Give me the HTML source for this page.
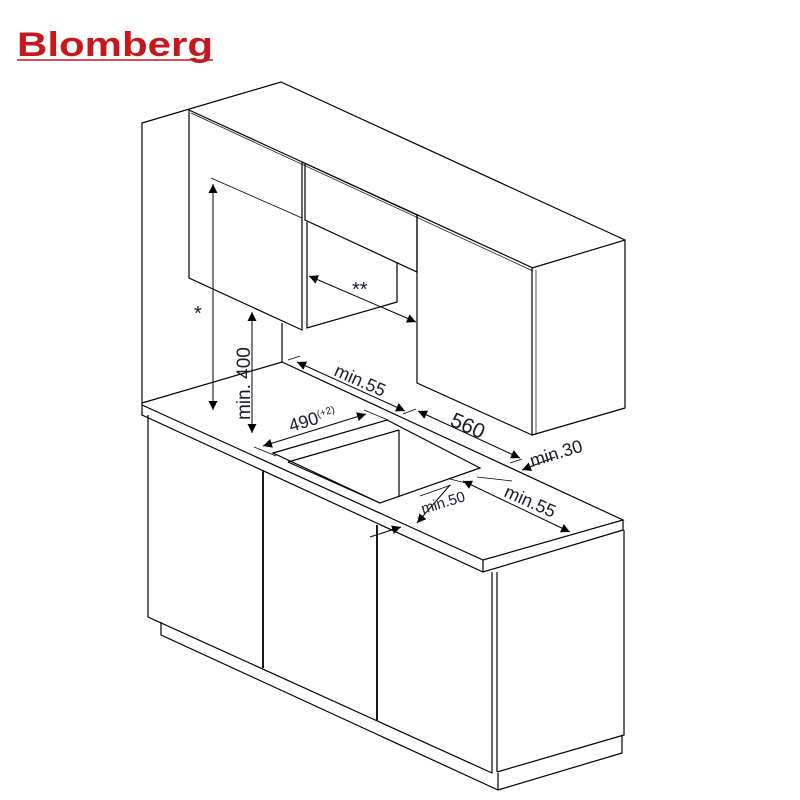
<!DOCTYPE html>
<html><head><meta charset="utf-8"><style>
body{margin:0;background:#fff;width:800px;height:800px;overflow:hidden}
svg{display:block}
text{font-family:"Liberation Sans",sans-serif;fill:#1a1a2a}
</style></head><body>
<svg width="800" height="800" viewBox="0 0 800 800" xmlns="http://www.w3.org/2000/svg">
<defs>
<marker id="a" viewBox="0 0 10 10" refX="10" refY="5" markerWidth="9" markerHeight="9" orient="auto-start-reverse" markerUnits="userSpaceOnUse"><path d="M0,0 L10,5 L0,10 z" fill="#000"/></marker>
</defs>
<text x="17" y="56" font-size="34" font-weight="bold" textLength="196" lengthAdjust="spacingAndGlyphs" style="fill:#c8161d">Blomberg</text>
<line x1="17" y1="60" x2="213" y2="60" stroke="#c8161d" stroke-width="1.5"/>
<g fill="none" stroke="#000" stroke-width="1.2">
<polyline points="142,405 142,123 281,82 625,240"/>
<line x1="282" y1="323" x2="282" y2="362"/>
<polyline points="189,110 189,278 302,330 302,162"/>
<line x1="189" y1="110" x2="533" y2="268"/>
<line x1="191" y1="113" x2="533" y2="271" stroke-width="0.7"/>
<polyline points="302,162 417,215"/>
<polyline points="305,164 305,220 417,272 417,215"/>
<polyline points="307,222 307,328 397,302 397,262"/>
<polyline points="417,215 417,383 532,435 532,268"/>
<line x1="536" y1="270" x2="536" y2="435" stroke-width="0.7"/>
<polyline points="532,268 625,240 625,408 532,435"/>
<polyline points="142,403 282,362 623,520 483,560 142,405 142,415 483,572 623,530 623,520"/>
<line x1="483" y1="560" x2="483" y2="572"/>
<polygon points="273,453 387,420 480,468 380,503"/>
<line x1="288" y1="462" x2="399" y2="430"/>
<line x1="288" y1="462" x2="380" y2="503"/>
<line x1="399" y1="430" x2="399" y2="497"/>
<polyline points="148,415 148,617 492,773 492,572"/>
<line x1="497" y1="572" x2="497" y2="772"/>
<polyline points="497,772 624,735 624,530"/>
<polyline points="161,622 161,635 498,790 622,753 622,735"/>
<line x1="498" y1="773" x2="498" y2="790"/>
<line x1="263" y1="470" x2="263" y2="668" stroke-width="1.8"/>
<line x1="377" y1="525" x2="377" y2="721" stroke-width="1.8"/>
</g>
<g stroke="#000" stroke-width="1" fill="none">
<line x1="211" y1="178" x2="302" y2="218" stroke-width="0.8"/>
<line x1="213" y1="184" x2="213" y2="410" marker-start="url(#a)" marker-end="url(#a)"/>
<line x1="252" y1="312" x2="252" y2="433" marker-start="url(#a)" marker-end="url(#a)"/>
<line x1="309" y1="276" x2="416" y2="322" marker-start="url(#a)" marker-end="url(#a)"/>
<line x1="288" y1="360" x2="300" y2="356" stroke-width="0.8"/>
<line x1="297" y1="362" x2="405" y2="411" marker-start="url(#a)" marker-end="url(#a)"/>
<line x1="403" y1="414" x2="416" y2="409" stroke-width="0.8"/>
<line x1="418" y1="411" x2="520" y2="458" marker-start="url(#a)" marker-end="url(#a)"/>
<line x1="510" y1="463" x2="522" y2="459" stroke-width="0.8"/>
<line x1="555" y1="457" x2="522" y2="470" marker-end="url(#a)"/>
<line x1="263" y1="446" x2="366" y2="414" marker-start="url(#a)" marker-end="url(#a)"/>
<line x1="254" y1="447" x2="276" y2="456" stroke-width="0.8"/>
<line x1="364" y1="410" x2="388" y2="420" stroke-width="0.8"/>
<line x1="463" y1="481" x2="570" y2="532" marker-start="url(#a)" marker-end="url(#a)"/>
<line x1="477" y1="477" x2="512" y2="481" stroke-width="0.8"/>
<line x1="450" y1="485" x2="417" y2="523" marker-end="url(#a)"/>
<line x1="420" y1="496" x2="451" y2="485" stroke-width="0.8"/>
<line x1="370" y1="537" x2="401" y2="527" marker-end="url(#a)"/>
<line x1="450" y1="479" x2="470" y2="484" stroke-width="0.8"/>
</g>
<g font-size="18">
<text x="194" y="320" font-size="20">*</text>
<text x="352" y="296" font-size="20">**</text>
<text transform="translate(250,420) rotate(-90)" font-size="19">min. 400</text>
<text transform="translate(333,375) rotate(24)">min.55</text>
<text transform="translate(449,425) rotate(24)" font-size="21">560</text>
<text transform="translate(532,467) rotate(-17)">min.30</text>
<text transform="translate(291,432) rotate(-17)">490<tspan font-size="10" dy="-6">(+2)</tspan></text>
<text transform="translate(423,514) rotate(-17)" font-size="15">min.50</text>
<text transform="translate(503,496) rotate(24)">min.55</text>
</g>
</svg>
</body></html>
